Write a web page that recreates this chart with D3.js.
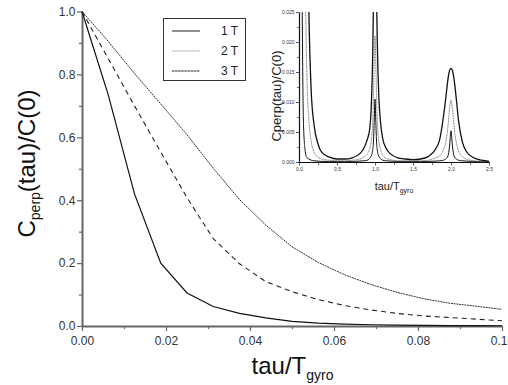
<!DOCTYPE html>
<html>
<head>
<meta charset="utf-8">
<script src="https://cdn.jsdelivr.net/npm/d3@7"></script>
<style>
  body { margin: 0; background: #fff; }
  svg { font-family: "Liberation Sans", Arial, sans-serif; }
</style>
</head>
<body>
<div class="container"></div>
<script>
// main panel: normalised perpendicular correlation vs tau/T_gyro
const tau = [0, 0.00625, 0.0125, 0.01875, 0.025, 0.03125, 0.0375, 0.04375, 0.05,
             0.05625, 0.0625, 0.06875, 0.075, 0.08125, 0.0875, 0.09375, 0.1];
const c1T = [1, 0.735, 0.42, 0.20, 0.105, 0.062, 0.040, 0.026, 0.015,
             0.009, 0.006, 0.004, 0.003, 0.002, 0.0015, 0.001, 0.0008];
const c2T = [1, 0.85, 0.70, 0.553, 0.408, 0.278, 0.198, 0.141, 0.109,
             0.084, 0.065, 0.051, 0.040, 0.032, 0.027, 0.022, 0.0165];
const c3T = [1, 0.905, 0.803, 0.706, 0.608, 0.502, 0.402, 0.321, 0.252,
             0.202, 0.163, 0.132, 0.107, 0.087, 0.0725, 0.063, 0.053];
const seriesNames = ['1 T', '2 T', '3 T'];

const xTicks = [0, 0.02, 0.04, 0.06, 0.08, 0.1];
const xMinor = [0.01, 0.03, 0.05, 0.07, 0.09];
const yTicks = [0, 0.2, 0.4, 0.6, 0.8, 1.0];
const yMinor = [0.1, 0.3, 0.5, 0.7, 0.9];

// inset: the same three runs over 2.5 gyro periods
const insetTau = [0, 0.02, 0.04, 0.06, 0.08, 0.1, 0.13, 0.16, 0.2, 0.25, 0.3, 0.4, 0.5,
                  0.6, 0.7, 0.8, 0.85, 0.9, 0.93, 0.95, 0.97, 0.98, 0.99, 1.0, 1.01,
                  1.02, 1.03, 1.05, 1.07, 1.1, 1.15, 1.2, 1.3, 1.4, 1.5, 1.6, 1.7,
                  1.8, 1.85, 1.9, 1.93, 1.96, 1.98, 2.0, 2.02, 2.04, 2.07, 2.1, 2.15,
                  2.2, 2.3, 2.4, 2.5];
const inset1T = [1, 0.17, 0.032, 0.006, 0.002, 0.0008, 0.0005, 0.0003, 0.0002, 0.00015, 0.0001, 0.0001, 0.0001,
                 0.0001, 0.0001, 0.00015, 0.0002, 0.0003, 0.0006, 0.001, 0.002, 0.0035, 0.007, 0.0105, 0.007,
                 0.0035, 0.002, 0.001, 0.0006, 0.0003, 0.0002, 0.00015, 0.0001, 0.0001, 0.0001, 0.0001, 0.0001,
                 0.00015, 0.0002, 0.0003, 0.0005, 0.001, 0.0025, 0.0052, 0.0025, 0.001, 0.0005, 0.0003, 0.0002,
                 0.00015, 0.0001, 0.0001, 0.0001];
const inset2T = [1, 0.52, 0.18, 0.07, 0.034, 0.0165, 0.007, 0.0035, 0.0016, 0.0008, 0.0005, 0.0003, 0.0002,
                 0.0002, 0.0003, 0.0005, 0.0008, 0.0014, 0.0022, 0.0035, 0.007, 0.011, 0.017, 0.021, 0.017,
                 0.011, 0.007, 0.0035, 0.0022, 0.0012, 0.0006, 0.0004, 0.0002, 0.0002, 0.0002, 0.0002, 0.0003,
                 0.0007, 0.001, 0.002, 0.0032, 0.006, 0.0088, 0.0103, 0.0088, 0.006, 0.0032, 0.0018, 0.0009,
                 0.0005, 0.0002, 0.0001, 0.0001];
const inset3T = [1, 0.69, 0.37, 0.17, 0.09, 0.053, 0.025, 0.012, 0.006, 0.003, 0.0016, 0.0008, 0.0005,
                 0.0005, 0.0007, 0.0014, 0.0022, 0.0038, 0.0055, 0.009, 0.018, 0.027, 0.04, 0.045, 0.04,
                 0.028, 0.02, 0.011, 0.007, 0.004, 0.0022, 0.0014, 0.0007, 0.0005, 0.0004, 0.0005, 0.0009,
                 0.0022, 0.0037, 0.0075, 0.0105, 0.0138, 0.0152, 0.0156, 0.0152, 0.0138, 0.0105, 0.0068, 0.0033,
                 0.0018, 0.0007, 0.0003, 0.0001];

const insetXTicks = [0, 0.5, 1.0, 1.5, 2.0, 2.5];
const insetXMinor = [0.25, 0.75, 1.25, 1.75, 2.25];
const insetYTicks = [0, 0.005, 0.01, 0.015, 0.02, 0.025];
const insetYMinor = [0.0025, 0.0075, 0.0125, 0.0175, 0.0225];

const width = 508, height = 385;

const svg = d3.select('.container').append('svg')
    .attr('width', width)
    .attr('height', height);

// ---- main panel ----
const x = d3.scaleLinear().domain([0, 0.1]).range([82, 502]);
const y = d3.scaleLinear().domain([0, 1]).range([326, 11.5]);

const styleAxis = (g, colour, w, fontSize) => {
    g.select('.domain').attr('stroke', colour).attr('stroke-width', w);
    g.selectAll('.tick line').attr('stroke', colour).attr('stroke-width', w * 0.6);
    g.selectAll('.tick text').attr('fill', '#333').style('font-size', fontSize + 'px');
};

svg.append('g')
    .attr('transform', `translate(0,${y(0)})`)
    .call(d3.axisBottom(x).tickValues(xMinor).tickSize(3).tickFormat(''))
    .call(g => { styleAxis(g, '#666', 2, 12); g.select('.domain').remove(); });
svg.append('g')
    .attr('transform', `translate(${x(0)},0)`)
    .call(d3.axisLeft(y).tickValues(yMinor).tickSize(3).tickFormat(''))
    .call(g => { styleAxis(g, '#666', 2, 12); g.select('.domain').remove(); });

svg.append('g')
    .attr('transform', `translate(0,${y(0)})`)
    .call(d3.axisBottom(x).tickValues(xTicks).tickSize(5).tickSizeOuter(0).tickPadding(5)
        .tickFormat(d3.format('.2f')))
    .call(g => styleAxis(g, '#666', 2, 12));
svg.append('g')
    .attr('transform', `translate(${x(0)},0)`)
    .call(d3.axisLeft(y).tickValues(yTicks).tickSize(5).tickSizeOuter(0).tickPadding(1.5)
        .tickFormat(d3.format('.1f')))
    .call(g => styleAxis(g, '#666', 2, 12));

const mainLine = d3.line().x((d, i) => x(tau[i])).y(d => y(d));

const mainSeries = [
    {values: c1T, dash: null, colour: '#111', w: 1.2},
    {values: c2T, dash: '5,4', colour: '#222', w: 1.1},
    {values: c3T, dash: '2,0.7', colour: '#333', w: 1}
];
svg.append('g').selectAll('path')
    .data(mainSeries)
    .enter()
    .append('path')
    .attr('d', d => mainLine(d.values))
    .attr('fill', 'none')
    .attr('stroke', d => d.colour)
    .attr('stroke-width', d => d.w)
    .attr('stroke-dasharray', d => d.dash);

// axis titles
const yTitle = svg.append('text')
    .attr('transform', 'translate(35,163.5) rotate(-90)')
    .attr('text-anchor', 'middle')
    .attr('fill', '#111')
    .style('font-size', '24px');
yTitle.append('tspan').text('C');
yTitle.append('tspan').text('perp').attr('dy', 5).style('font-size', '14px');
yTitle.append('tspan').text('(tau)/C(0)').attr('dy', -5);

const xTitle = svg.append('text')
    .attr('x', 292.5)
    .attr('y', 374)
    .attr('text-anchor', 'middle')
    .attr('fill', '#111')
    .style('font-size', '24px');
xTitle.append('tspan').text('tau/T');
xTitle.append('tspan').text('gyro').attr('dy', 6).style('font-size', '14px');

// legend
const legend = svg.append('g');
legend.append('rect')
    .attr('x', 163.5).attr('y', 18.5)
    .attr('width', 82).attr('height', 62)
    .attr('fill', '#fff').attr('stroke', '#333').attr('stroke-width', 1);
const legendStyles = [
    {dash: null, colour: '#555', w: 1.3},
    {dash: '1,0.8', colour: '#888', w: 1},
    {dash: '2.5,0.6', colour: '#222', w: 1}
];
const rowY = d3.scalePoint().domain(seriesNames).range([31, 71]);
const rows = legend.selectAll('.row')
    .data(seriesNames)
    .enter()
    .append('g')
    .attr('class', 'row');
rows.append('line')
    .attr('x1', 172).attr('x2', 200)
    .attr('y1', d => rowY(d)).attr('y2', d => rowY(d))
    .attr('stroke', (d, i) => legendStyles[i].colour)
    .attr('stroke-width', (d, i) => legendStyles[i].w)
    .attr('stroke-dasharray', (d, i) => legendStyles[i].dash);
rows.append('text')
    .attr('x', 238).attr('y', d => rowY(d))
    .attr('dy', '0.35em')
    .attr('text-anchor', 'end')
    .attr('fill', '#222')
    .style('font-size', '12px')
    .text(d => d);

// ---- inset ----
const ix = d3.scaleLinear().domain([0, 2.5]).range([299, 489]);
const iy = d3.scaleLinear().domain([0, 0.025]).range([162, 12]);

svg.append('clipPath').attr('id', 'insetClip')
    .append('rect')
    .attr('x', 299).attr('y', 12).attr('width', 192).attr('height', 150);

const inset = svg.append('g');

inset.append('g')
    .attr('transform', `translate(0,${iy(0)})`)
    .call(d3.axisBottom(ix).tickValues(insetXMinor).tickSize(3).tickFormat(''))
    .call(g => { styleAxis(g, '#111', 1, 5); g.select('.domain').remove(); });
inset.append('g')
    .attr('transform', `translate(${ix(0)},0)`)
    .call(d3.axisLeft(iy).tickValues(insetYMinor).tickSize(2).tickFormat(''))
    .call(g => { styleAxis(g, '#111', 1, 5); g.select('.domain').remove(); });
inset.append('g')
    .attr('transform', `translate(0,${iy(0)})`)
    .call(d3.axisBottom(ix).tickValues(insetXTicks).tickSize(3.5).tickSizeOuter(0).tickPadding(2)
        .tickFormat(d3.format('.1f')))
    .call(g => styleAxis(g, '#111', 1.2, 5));
inset.append('g')
    .attr('transform', `translate(${ix(0)},0)`)
    .call(d3.axisLeft(iy).tickValues(insetYTicks).tickSize(3).tickSizeOuter(0).tickPadding(1.5)
        .tickFormat(d3.format('.3f')))
    .call(g => styleAxis(g, '#111', 1.2, 5));

const insetLine = d3.line()
    .curve(d3.curveMonotoneX)
    .x((d, i) => ix(insetTau[i]))
    .y(d => iy(d));

const insetSeries = [
    {values: inset1T, dash: null, colour: '#111', w: 1},
    {values: inset2T, dash: '1,0.6', colour: '#777', w: 1},
    {values: inset3T, dash: null, colour: '#111', w: 1.3}
];
inset.append('g')
    .attr('clip-path', 'url(#insetClip)')
    .selectAll('path')
    .data(insetSeries)
    .enter()
    .append('path')
    .attr('d', d => insetLine(d.values))
    .attr('fill', 'none')
    .attr('stroke', d => d.colour)
    .attr('stroke-width', d => d.w)
    .attr('stroke-dasharray', d => d.dash);

inset.append('text')
    .attr('transform', 'translate(281,96) rotate(-90)')
    .attr('text-anchor', 'middle')
    .attr('fill', '#222')
    .style('font-size', '13px')
    .text('Cperp(tau)/C(0)');

const insetXTitle = inset.append('text')
    .attr('x', 394)
    .attr('y', 190)
    .attr('text-anchor', 'middle')
    .attr('fill', '#222')
    .style('font-size', '11px');
insetXTitle.append('tspan').text('tau/T');
insetXTitle.append('tspan').text('gyro').attr('dy', 3).style('font-size', '7px');
</script>
</body>
</html>
